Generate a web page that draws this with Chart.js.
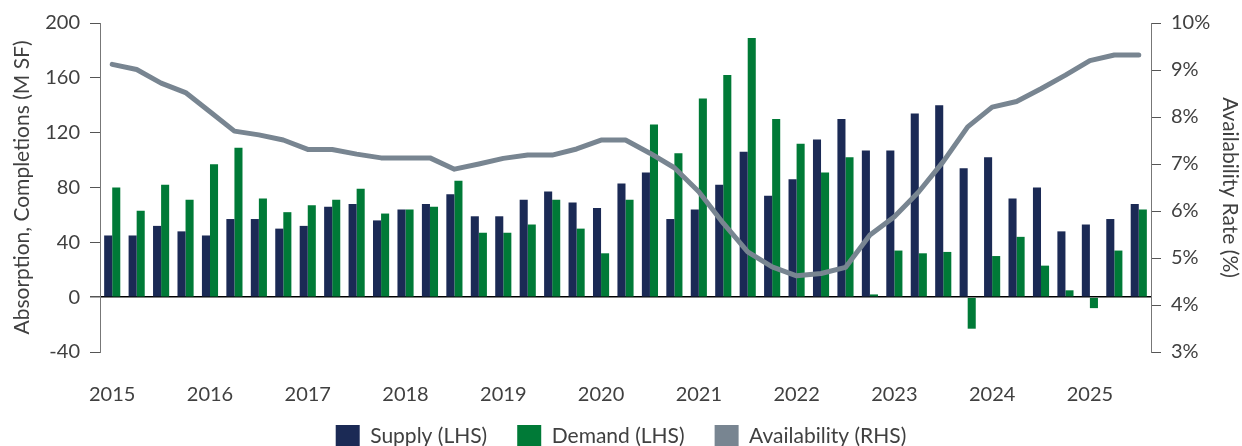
<!DOCTYPE html>
<html>
<head>
<meta charset="utf-8">
<style>
  html, body { margin: 0; padding: 0; background: #fff; overflow: hidden; }
</style>
<script src="https://cdn.jsdelivr.net/npm/chart.js@4.4.1/dist/chart.umd.min.js"></script>
</head>
<body>
<canvas id="myChart" width="1242" height="471"></canvas>
<script>
// quarterly, Q1 2015 .. Q3 2025
var quarters = [
  "Q1 2015", "Q2 2015", "Q3 2015", "Q4 2015",
  "Q1 2016", "Q2 2016", "Q3 2016", "Q4 2016",
  "Q1 2017", "Q2 2017", "Q3 2017", "Q4 2017",
  "Q1 2018", "Q2 2018", "Q3 2018", "Q4 2018",
  "Q1 2019", "Q2 2019", "Q3 2019", "Q4 2019",
  "Q1 2020", "Q2 2020", "Q3 2020", "Q4 2020",
  "Q1 2021", "Q2 2021", "Q3 2021", "Q4 2021",
  "Q1 2022", "Q2 2022", "Q3 2022", "Q4 2022",
  "Q1 2023", "Q2 2023", "Q3 2023", "Q4 2023",
  "Q1 2024", "Q2 2024", "Q3 2024", "Q4 2024",
  "Q1 2025", "Q2 2025", "Q3 2025"
];

// M SF
var supply = [
  45, 45, 52, 48,
  45, 57, 57, 50,
  52, 66, 68, 56,
  64, 68, 75, 59,
  59, 71, 77, 69,
  65, 83, 91, 57,
  64, 82, 106, 74,
  86, 115, 130, 107,
  107, 134, 140, 94,
  102, 72, 80, 48,
  53, 57, 68
];

var demand = [
  80, 63, 82, 71,
  97, 109, 72, 62,
  67, 71, 79, 61,
  64, 66, 85, 47,
  47, 53, 71, 50,
  32, 71, 126, 105,
  145, 162, 189, 130,
  112, 91, 102, 2,
  34, 32, 33, -23,
  30, 44, 23, 5,
  -8, 34, 64
];

// %
var availability = [
  9.12, 9.01, 8.72, 8.52,
  8.11, 7.70, 7.62, 7.51,
  7.31, 7.31, 7.21, 7.13,
  7.13, 7.13, 6.89, 7.00,
  7.12, 7.19, 7.19, 7.32,
  7.51, 7.51, 7.23, 6.92,
  6.41, 5.74, 5.13, 4.81,
  4.62, 4.67, 4.80, 5.49,
  5.88, 6.41, 7.05, 7.79,
  8.21, 8.33, 8.60, 8.89,
  9.20, 9.32, 9.32
];

Chart.defaults.font.family = "Lato";
Chart.defaults.font.size = 20;
Chart.defaults.color = "#404040";

// pull the legend up a bit, it sits tight under the year labels
var legendNudge = {
  id: "legendNudge",
  afterLayout: function (chart) {
    if (chart.legend) {
      chart.legend.top -= 13;
      chart.legend.bottom -= 13;
    }
  }
};

var ctx = document.getElementById("myChart").getContext("2d");
var chart = new Chart(ctx, {
  type: "bar",
  data: {
    labels: quarters,
    datasets: [
      {
        label: "Supply (LHS)",
        data: supply,
        backgroundColor: "#1b2a55",
        yAxisID: "y",
        categoryPercentage: 0.66,
        barPercentage: 1.0
      },
      {
        label: "Demand (LHS)",
        data: demand,
        backgroundColor: "#007a37",
        yAxisID: "y",
        categoryPercentage: 0.66,
        barPercentage: 1.0
      },
      {
        type: "line",
        label: "Availability (RHS)",
        data: availability,
        borderColor: "#788591",
        backgroundColor: "#788591",
        borderWidth: 5,
        pointRadius: 0,
        tension: 0,
        borderJoinStyle: "round",
        borderCapStyle: "round",
        fill: false,
        yAxisID: "y1",
        order: -1
      }
    ]
  },
  plugins: [legendNudge],
  options: {
    responsive: false,
    animation: false,
    layout: { padding: { top: 23, left: 0, right: 0, bottom: 0 } },
    plugins: {
      tooltip: { enabled: false },
      legend: {
        position: "bottom",
        labels: {
          boxWidth: 24,
          boxHeight: 23,
          padding: 30,
          color: "#404040",
          font: { size: 21 },
          sort: function (a, b) { return a.datasetIndex - b.datasetIndex; },
          generateLabels: function (chart) {
            var items = Chart.defaults.plugins.legend.labels.generateLabels(chart);
            items.forEach(function (it) { it.lineWidth = 0; });
            return items;
          }
        }
      }
    },
    scales: {
      x: {
        grid: { display: false },
        border: { display: false },
        ticks: {
          autoSkip: false,
          maxRotation: 0,
          padding: 23,
          callback: function (value) {
            var l = this.getLabelForValue(value);
            return l.indexOf("Q1") === 0 ? l.slice(3) : "";
          }
        },
        afterFit: function (scale) { scale.height = 56; }
      },
      y: {
        position: "left",
        min: -40,
        max: 200,
        ticks: { stepSize: 40, padding: 10 },
        grid: {
          color: function (c) { return c.tick && c.tick.value === 0 ? "#000" : "rgba(0,0,0,0)"; },
          lineWidth: function (c) { return c.tick && c.tick.value === 0 ? 1.5 : 1; },
          tickColor: "#555",
          tickLength: 10
        },
        border: { display: true, color: "#777", width: 1 },
        title: {
          display: true,
          text: "Absorption, Completions (M SF)",
          font: { size: 21 },
          padding: { top: 10, bottom: 0 }
        },
        afterFit: function (scale) { scale.width = 100; }
      },
      y1: {
        position: "right",
        min: 3,
        max: 10,
        ticks: {
          stepSize: 1,
          padding: 10,
          callback: function (v) { return v + "%"; }
        },
        grid: { drawOnChartArea: false, tickColor: "#555", tickLength: 10 },
        border: { display: true, color: "#777", width: 1 },
        title: {
          display: true,
          text: "Availability Rate (%)",
          font: { size: 21 },
          padding: { top: 0, bottom: 0 }
        },
        afterFit: function (scale) { scale.width = 91; }
      }
    }
  }
});
</script>
</body>
</html>
